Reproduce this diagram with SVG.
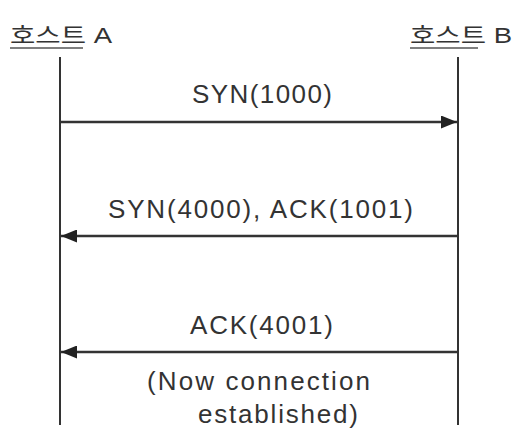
<svg xmlns="http://www.w3.org/2000/svg" width="519" height="445" viewBox="0 0 519 445">
<style>
.t{font-family:"Liberation Sans","Noto Sans CJK KR",Arial,sans-serif;fill:#333;}
.h{font-size:22px;}
.m{font-size:26px;}
.life{stroke:#333;stroke-width:2;fill:none;}
.msg{stroke:#333;stroke-width:2.5;fill:none;}
.ul{stroke:#555;stroke-width:1.5;}
</style>
<defs>
<marker id="ah" viewBox="0 0 16 13" refX="16" refY="6.5" markerWidth="16" markerHeight="13" markerUnits="userSpaceOnUse" orient="auto">
<path d="M0,0 L16,6.5 L0,13 Z" fill="#222"/>
</marker>
</defs>
<rect width="519" height="445" fill="#fff"/>
<g id="hostA">
<text class="t h" x="10" y="43" textLength="102" lengthAdjust="spacingAndGlyphs">호스트 A</text>
<line class="ul" x1="10" y1="48" x2="83" y2="48"/>
<line class="life" x1="60" y1="57" x2="60" y2="425"/>
</g>
<g id="hostB">
<text class="t h" x="410" y="43" textLength="102" lengthAdjust="spacingAndGlyphs">호스트 B</text>
<line class="ul" x1="410" y1="48" x2="478" y2="48"/>
<line class="life" x1="458" y1="57" x2="458" y2="425"/>
</g>
<g id="connectors">
<line class="msg" x1="60" y1="122" x2="457" y2="122" marker-end="url(#ah)"/>
<text class="t m" x="192" y="103" textLength="140" lengthAdjust="spacing">SYN(1000)</text>
<line class="msg" x1="458" y1="236" x2="61" y2="236" marker-end="url(#ah)"/>
<text class="t m" x="108" y="218" textLength="305" lengthAdjust="spacing">SYN(4000), ACK(1001)</text>
<line class="msg" x1="458" y1="352" x2="61" y2="352" marker-end="url(#ah)"/>
<text class="t m" x="190" y="334" textLength="143" lengthAdjust="spacing">ACK(4001)</text>
<text class="t m" x="147" y="390" textLength="223" lengthAdjust="spacing">(Now connection</text>
<text class="t m" x="198" y="423" textLength="160" lengthAdjust="spacing">established)</text>
</g>
</svg>
